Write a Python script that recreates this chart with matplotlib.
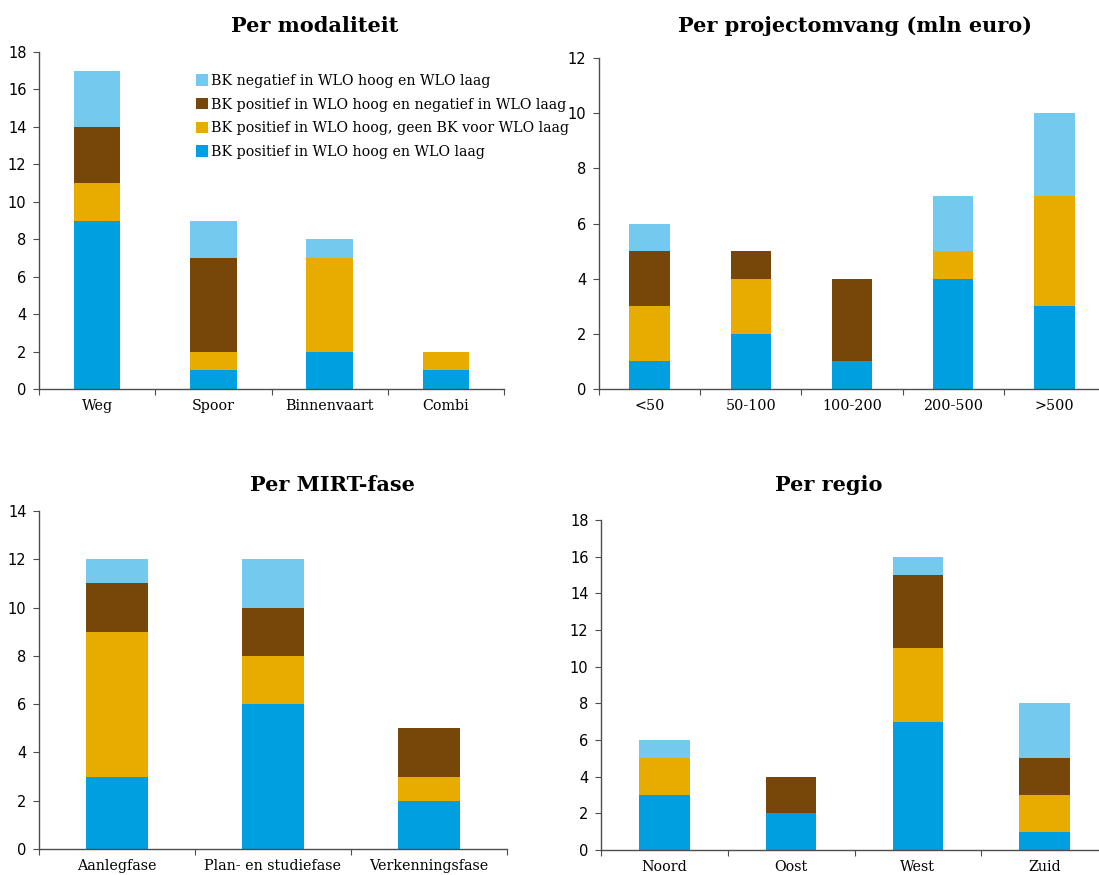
import matplotlib
matplotlib.use("Agg")
import matplotlib.pyplot as plt
from matplotlib.patches import Patch
import numpy as np

# Series (bottom to top in each stack)
series_labels = [
    "BK positief in WLO hoog en WLO laag",
    "BK positief in WLO hoog, geen BK voor WLO laag",
    "BK positief in WLO hoog en negatief in WLO laag",
    "BK negatief in WLO hoog en WLO laag",
]
series_colors = ["#009FDF", "#E8AB00", "#774709", "#73CAEE"]

# Per modaliteit
mod_cats = ["Weg", "Spoor", "Binnenvaart", "Combi"]
mod_pos_both = [9, 1, 2, 1]
mod_pos_hoog_geen = [2, 1, 5, 1]
mod_pos_hoog_neg = [3, 5, 0, 0]
mod_neg_both = [3, 2, 1, 0]

# Per projectomvang (mln euro)
omv_cats = ["<50", "50-100", "100-200", "200-500", ">500"]
omv_pos_both = [1, 2, 1, 4, 3]
omv_pos_hoog_geen = [2, 2, 0, 1, 4]
omv_pos_hoog_neg = [2, 1, 3, 0, 0]
omv_neg_both = [1, 0, 0, 2, 3]

# Per MIRT-fase
fase_cats = ["Aanlegfase", "Plan- en studiefase", "Verkenningsfase"]
fase_pos_both = [3, 6, 2]
fase_pos_hoog_geen = [6, 2, 1]
fase_pos_hoog_neg = [2, 2, 2]
fase_neg_both = [1, 2, 0]

# Per regio
reg_cats = ["Noord", "Oost", "West", "Zuid"]
reg_pos_both = [3, 2, 7, 1]
reg_pos_hoog_geen = [2, 0, 4, 2]
reg_pos_hoog_neg = [0, 2, 4, 2]
reg_neg_both = [1, 0, 1, 3]

W, H = 1099, 875
fig = plt.figure(figsize=(W / 100, H / 100), dpi=100)

SERIF = ["DejaVu Serif"]
SANS = ["DejaVu Sans"]
SPINE = "#4d4d4d"


def px_axes(left, right, top, bottom):
    return fig.add_axes([left / W, 1 - bottom / H, (right - left) / W, (bottom - top) / H])


def stacked(ax, cats, stacks, ymax, ystep, width):
    x = np.arange(len(cats))
    base = np.zeros(len(cats))
    for vals, col in zip(stacks, series_colors):
        v = np.array(vals, dtype=float)
        ax.bar(x, v, width=width, bottom=base, color=col, edgecolor="none")
        base += v
    ax.set_xlim(-0.5, len(cats) - 0.5)
    ax.set_ylim(0, ymax)
    ax.set_yticks(np.arange(0, ymax + 0.01, ystep))
    ax.set_xticks(np.arange(len(cats) + 1) - 0.5)
    ax.set_xticklabels([])
    ax.set_xticks(x, minor=True)
    ax.set_xticklabels(cats, minor=True, fontfamily=SERIF, fontsize=10.3)
    ax.tick_params(axis="x", which="minor", length=0, pad=7)
    ax.tick_params(axis="x", which="major", length=4, direction="out", color=SPINE)
    ax.tick_params(axis="y", length=4, direction="out", color=SPINE, labelsize=10.5, pad=5)
    for lab in ax.get_yticklabels():
        lab.set_fontfamily(SANS)
    for s in ("top", "right"):
        ax.spines[s].set_visible(False)
    for s in ("left", "bottom"):
        ax.spines[s].set_color(SPINE)
        ax.spines[s].set_linewidth(1.0)


ax1 = px_axes(39, 504, 52, 389)
stacked(ax1, mod_cats, [mod_pos_both, mod_pos_hoog_geen, mod_pos_hoog_neg, mod_neg_both], 18, 2, 0.4)

ax2 = px_axes(599, 1105, 58, 389)
stacked(ax2, omv_cats, [omv_pos_both, omv_pos_hoog_geen, omv_pos_hoog_neg, omv_neg_both], 12, 2, 0.4)

ax3 = px_axes(39, 507, 511, 849)
stacked(ax3, fase_cats, [fase_pos_both, fase_pos_hoog_geen, fase_pos_hoog_neg, fase_neg_both], 14, 2, 0.4)

ax4 = px_axes(601, 1108, 520, 850)
stacked(ax4, reg_cats, [reg_pos_both, reg_pos_hoog_geen, reg_pos_hoog_neg, reg_neg_both], 18, 2, 0.4)

# Panel titles
titles = [
    ("Per modaliteit", 315, 26),
    ("Per projectomvang (mln euro)", 855, 26),
    ("Per MIRT-fase", 332, 485),
    ("Per regio", 829, 485),
]
for txt, cx, cy in titles:
    fig.text(cx / W, 1 - cy / H, txt, ha="center", va="center",
             fontfamily=SERIF, fontsize=15, fontweight="bold")

# Legend (top series listed first)
handles = [Patch(facecolor=c, edgecolor="none") for c in series_colors][::-1]
labels = series_labels[::-1]
ax1.legend(handles, labels, loc="upper left", bbox_to_anchor=(196 / W, 1 - 74 / H),
           bbox_transform=fig.transFigure, frameon=False,
           prop={"family": SERIF, "size": 10.2}, handlelength=0.85, handleheight=0.85,
           handletextpad=0.2, labelspacing=0.68, borderaxespad=0, borderpad=0)

fig.savefig("out.png", dpi=100)
